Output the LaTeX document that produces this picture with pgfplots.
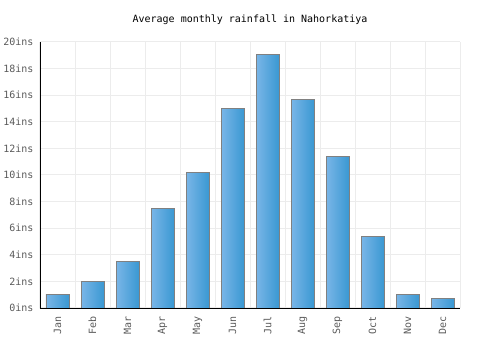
\documentclass[border=0pt]{standalone}
\usepackage{pgfplots}
\pgfplotsset{compat=1.18}
\usepackage{fontspec}
\setmainfont{DejaVu Sans Mono}
\definecolor{barL}{RGB}{122,182,232}
\definecolor{barR}{RGB}{58,152,210}
\definecolor{gridc}{RGB}{236,236,236}
\definecolor{tickc}{RGB}{90,90,90}
\pgfplotsset{
  mybar/.style={ybar, bar width=23pt, bar shift=0pt, draw=gray, line width=0.9pt, left color=barL, right color=barR},
}
\begin{document}
\begin{tikzpicture}[x=1pt,y=1pt]
\useasboundingbox (0,0) rectangle (500,350);
\begin{axis}[
  at={(40pt,42pt)}, anchor=south west,
  scale only axis, width=420pt, height=266pt,
  xmin=-0.5, xmax=11.5, ymin=0, ymax=20,
  axis lines=left,
  axis line style={-, black, line width=0.9pt},
  xtick={0,...,11},
  xticklabels={Jan,Feb,Mar,Apr,May,Jun,Jul,Aug,Sep,Oct,Nov,Dec},
  minor xtick={-0.5,0.5,...,11.5},
  ytick={0,2,4,6,8,10,12,14,16,18,20},
  yticklabels={0ins,2ins,4ins,6ins,8ins,10ins,12ins,14ins,16ins,18ins,20ins},
  major tick length=0pt, minor tick length=0pt,
  xmajorgrids=false, xminorgrids=true, ymajorgrids=true,
  grid style={gridc, line width=1pt},
  minor grid style={gridc, line width=1pt},
  x tick label style={rotate=90, anchor=east, font=\fontsize{10}{12}\selectfont, text=tickc, xshift=-5pt},
  y tick label style={font=\fontsize{10}{12}\selectfont, text=tickc, xshift=-3pt},
  clip=false,
]
\addplot[mybar] coordinates {(0,1.0)};
\addplot[mybar] coordinates {(1,2.0)};
\addplot[mybar] coordinates {(2,3.5)};
\addplot[mybar] coordinates {(3,7.5)};
\addplot[mybar] coordinates {(4,10.2)};
\addplot[mybar] coordinates {(5,15.0)};
\addplot[mybar] coordinates {(6,19.05)};
\addplot[mybar] coordinates {(7,15.7)};
\addplot[mybar] coordinates {(8,11.4)};
\addplot[mybar] coordinates {(9,5.4)};
\addplot[mybar] coordinates {(10,1.0)};
\addplot[mybar] coordinates {(11,0.7)};
\addplot[black, line width=0.9pt, mark=none] coordinates {(-0.5,0) (11.5,0)};
\end{axis}
\node[font=\fontsize{10}{12}\selectfont, text=black] at (250,330) {Average monthly rainfall in Nahorkatiya};
\end{tikzpicture}
\end{document}
